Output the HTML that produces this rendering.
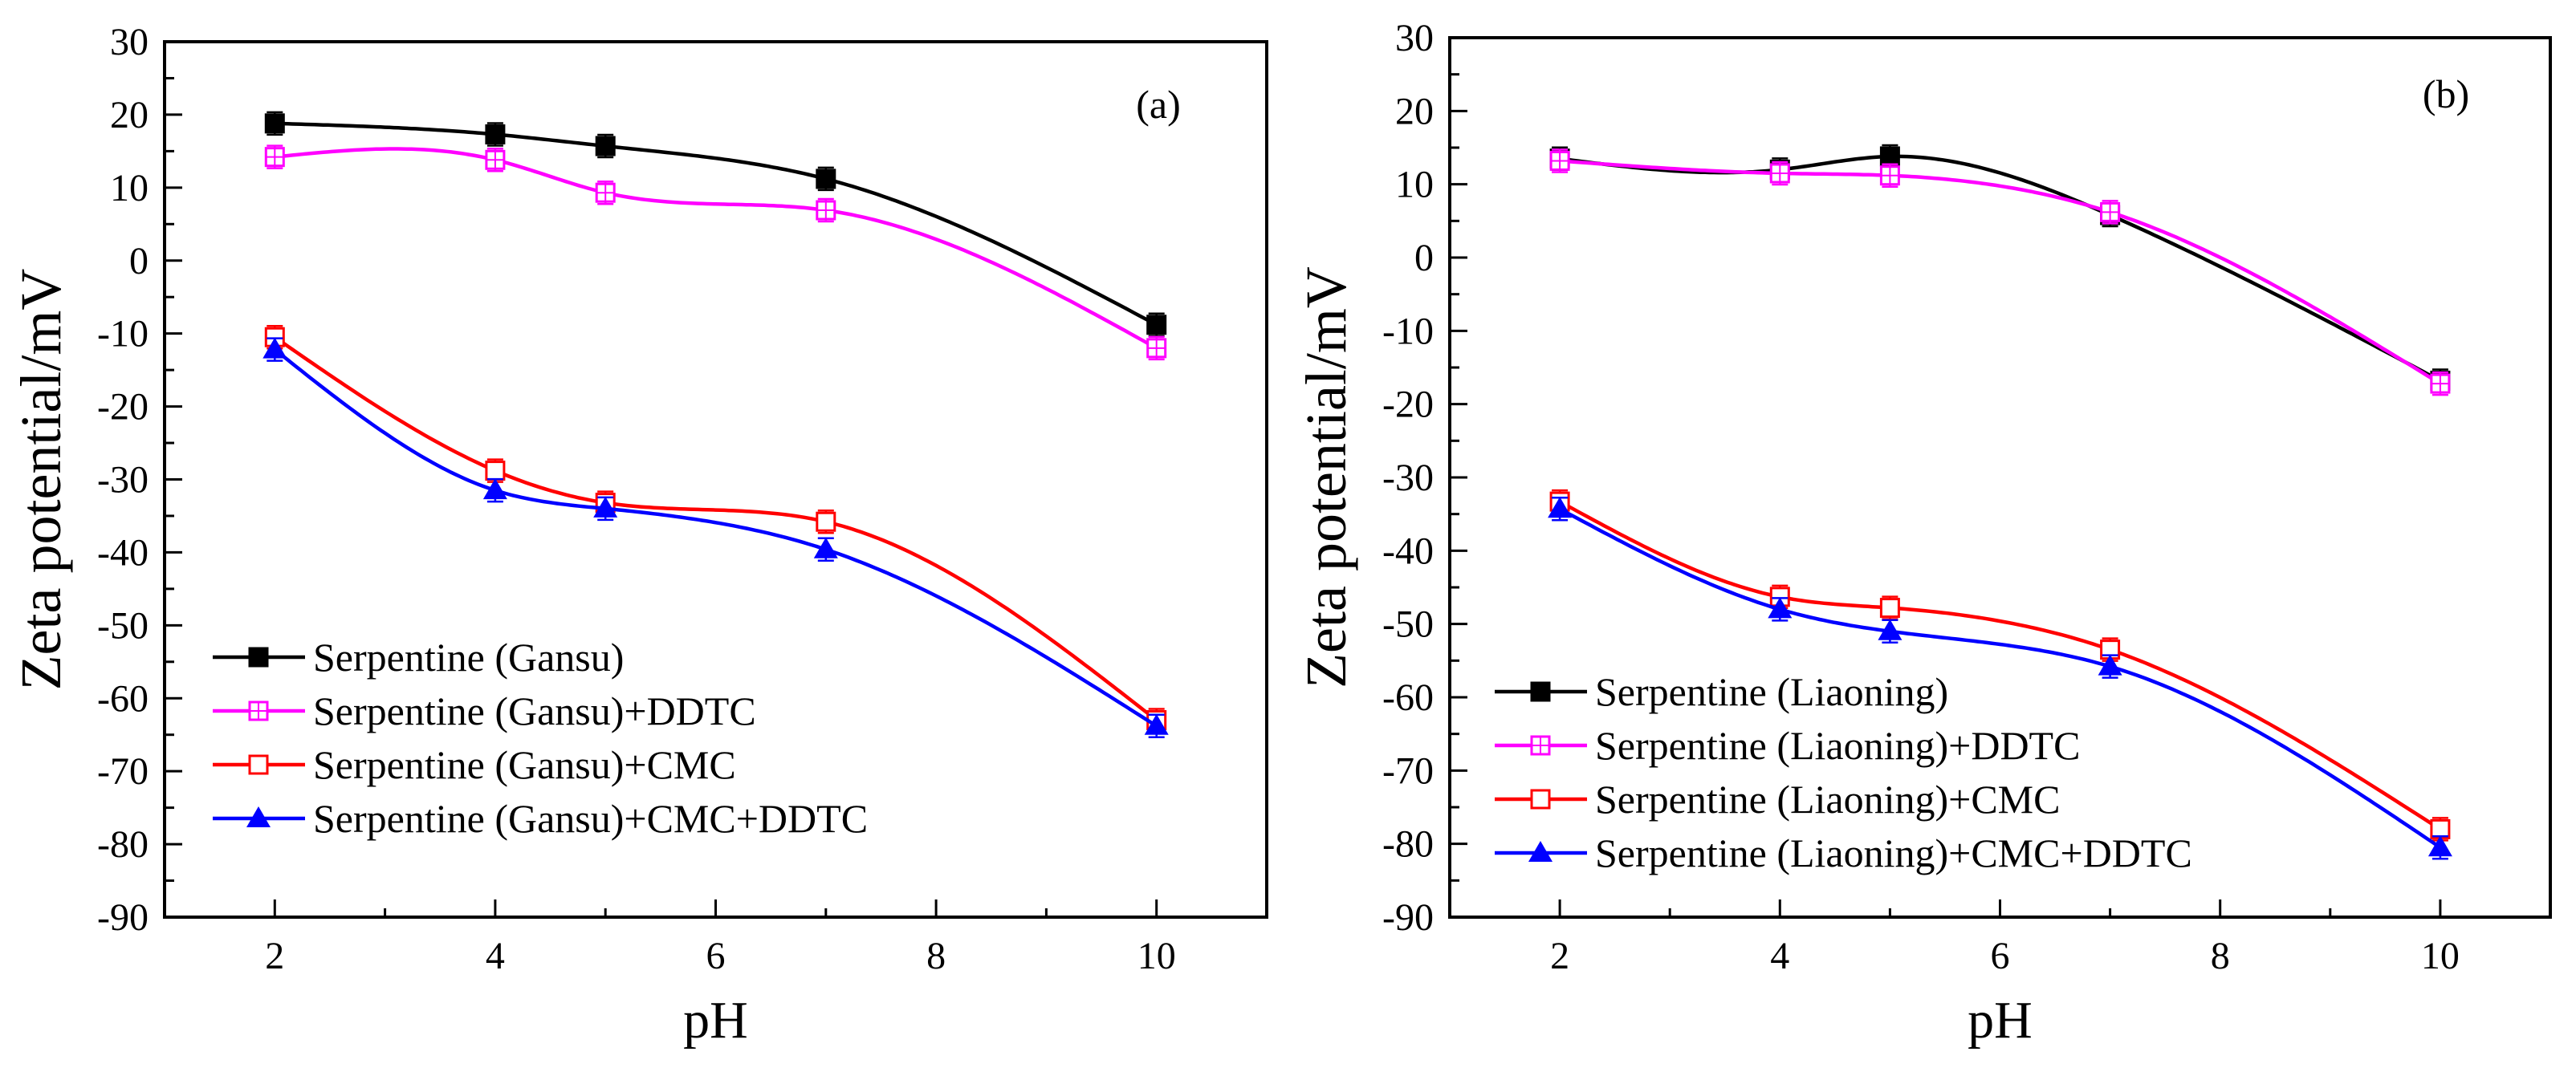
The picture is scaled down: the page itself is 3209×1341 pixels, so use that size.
<!DOCTYPE html>
<html><head><meta charset="utf-8"><style>
html,body{margin:0;padding:0;background:#fff;}
svg, svg text{font-family:"Liberation Serif","Times New Roman",serif;}
</style></head><body>
<svg id="chart" width="3209" height="1336" viewBox="0 0 3209 1336" xmlns="http://www.w3.org/2000/svg" font-family="Liberation Serif, serif"></svg>
<script>
const phValues = [2, 4, 5, 7, 10];
const yTicks = [30, 20, 10, 0, -10, -20, -30, -40, -50, -60, -70, -80, -90];
const xTicks = [2, 4, 6, 8, 10];
const gansuNames = ["Serpentine (Gansu)", "Serpentine (Gansu)+DDTC", "Serpentine (Gansu)+CMC", "Serpentine (Gansu)+CMC+DDTC"];
const liaoningNames = ["Serpentine (Liaoning)", "Serpentine (Liaoning)+DDTC", "Serpentine (Liaoning)+CMC", "Serpentine (Liaoning)+CMC+DDTC"];
const gansuBase = [18.8, 17.3, 15.7, 11.2, -8.8];
const gansuDDTC = [14.2, 13.8, 9.3, 6.9, -12.0];
const gansuCMC = [-10.5, -28.8, -33.2, -35.8, -63.0];
const gansuCMCDDTC = [-12.2, -31.5, -34.0, -39.6, -63.8];
const liaoningBase = [13.5, 12.0, 13.8, 5.8, -16.8];
const liaoningDDTC = [13.2, 11.5, 11.2, 6.2, -17.2];
const liaoningCMC = [-33.3, -46.3, -47.8, -53.5, -78.0];
const liaoningCMCDDTC = [-34.3, -48.0, -51.0, -55.8, -80.5];

const NS = "http://www.w3.org/2000/svg";
const FONT = "'Liberation Serif', 'Times New Roman', serif";
const svg = document.getElementById("chart");
function mk(tag, attrs, parent) {
  const e = document.createElementNS(NS, tag);
  for (const k in attrs) e.setAttribute(k, attrs[k]);
  if (tag === "text") e.setAttribute("style", "font-family:" + FONT);
  (parent || svg).appendChild(e);
  return e;
}
function spline(xs, ys) {
  const n = xs.length, h = [], al = [], l = [1], mu = [0], z = [0], c = new Array(n).fill(0), b = [], d = [];
  for (let i = 0; i < n - 1; i++) h.push(xs[i + 1] - xs[i]);
  for (let i = 1; i < n - 1; i++) al[i] = 3 / h[i] * (ys[i + 1] - ys[i]) - 3 / h[i - 1] * (ys[i] - ys[i - 1]);
  for (let i = 1; i < n - 1; i++) {
    l[i] = 2 * (xs[i + 1] - xs[i - 1]) - h[i - 1] * mu[i - 1];
    mu[i] = h[i] / l[i];
    z[i] = (al[i] - h[i - 1] * z[i - 1]) / l[i];
  }
  for (let j = n - 2; j >= 1; j--) c[j] = z[j] - mu[j] * c[j + 1];
  c[0] = 0;
  for (let j = 0; j < n - 1; j++) {
    b[j] = (ys[j + 1] - ys[j]) / h[j] - h[j] * (c[j + 1] + 2 * c[j]) / 3;
    d[j] = (c[j + 1] - c[j]) / (3 * h[j]);
  }
  return x => {
    let j = 0;
    while (j < n - 2 && x > xs[j + 1]) j++;
    const t = x - xs[j];
    return ys[j] + b[j] * t + c[j] * t * t + d[j] * t * t * t;
  };
}

function panel(cfg) {
  const g = mk("g", {});
  
  
  const X = v => cfg.L + (v - 1) / 10 * (cfg.R - cfg.L);
  const Y = v => cfg.T + (30 - v) / 120 * (cfg.B - cfg.T);
  for (let v = 30; v >= -90; v -= 5) {
    const major = v % 10 === 0;
    const t = mk("line", {x1: cfg.L, x2: cfg.L + (major ? 22 : 12), y1: Y(v), y2: Y(v), stroke: "#000", "stroke-width": 3}, g);
    
    
  }
  yTicks.forEach(v => {
    const t = mk("text", {x: cfg.L - 20, y: Y(v) + 16, "text-anchor": "end", "font-size": 48}, g);
    t.textContent = v;
    
    
  });
  for (let v = 2; v <= 10; v++) {
    const major = v % 2 === 0;
    const t = mk("line", {x1: X(v), x2: X(v), y1: cfg.B, y2: cfg.B - (major ? 22 : 11), stroke: "#000", "stroke-width": 3}, g);
    
    
  }
  xTicks.forEach(v => {
    const t = mk("text", {x: X(v), y: cfg.B + 64, "text-anchor": "middle", "font-size": 48}, g);
    t.textContent = v;
    
    
  });
  const frame = mk("rect", {x: cfg.L, y: cfg.T, width: cfg.R - cfg.L, height: cfg.B - cfg.T, fill: "none", stroke: "#000", "stroke-width": 4}, g);
  
  
  const xt = mk("text", {x: (cfg.L + cfg.R) / 2, y: cfg.B + 150, "text-anchor": "middle", "font-size": 66}, g);
  xt.textContent = "pH";
  
  
  const yt = mk("text", {x: 0, y: 0, "text-anchor": "middle", "font-size": 72, transform: `translate(${cfg.L - 130},${(cfg.T + cfg.B) / 2}) rotate(-90)`}, g);
  yt.textContent = "Zeta potential/mV";
  
  
  const pl = mk("text", {x: cfg.labX, y: cfg.labY, "text-anchor": "middle", "font-size": 50}, g);
  pl.textContent = cfg.label;
  
  

  const colors = ["#000000", "#ff00ff", "#ff0000", "#0000ff"];
  const kinds = ["fill", "cross", "open", "tri"];
  function marker(kind, color, cx, cy, parent, s) {
    s = s || 11;
    if (kind === "tri") return mk("polygon", {points: `${cx},${cy - 15} ${cx - 15},${cy + 11} ${cx + 15},${cy + 11}`, fill: color}, parent);
    const m = mk("g", {}, parent);
    mk("rect", {x: cx - s, y: cy - s, width: 2 * s, height: 2 * s, fill: kind === "fill" ? color : "#fff", stroke: color, "stroke-width": 3}, m);
    if (kind === "cross") {
      mk("line", {x1: cx - s, x2: cx + s, y1: cy, y2: cy, stroke: color, "stroke-width": 2}, m);
      mk("line", {x1: cx, x2: cx, y1: cy - s, y2: cy + s, stroke: color, "stroke-width": 2}, m);
    }
    return m;
  }
  cfg.series.forEach((ys, si) => {
    const sg = mk("g", {}, g);
    
    
    const f = spline(phValues, ys);
    let d = "";
    for (let i = 0; i <= 200; i++) {
      const x = phValues[0] + (phValues[phValues.length - 1] - phValues[0]) * i / 200;
      d += (i ? "L" : "M") + X(x).toFixed(1) + "," + Y(f(x)).toFixed(1);
    }
    const p = mk("path", {d: d, fill: "none", stroke: colors[si], "stroke-width": 4.5}, sg);
    
    
    phValues.forEach((x, i) => {
      const cx = X(x), cy = Y(ys[i]);
      const eb = mk("path", {d: `M${cx},${cy - 14}V${cy + 14}M${cx - 10},${cy - 14}H${cx + 10}M${cx - 10},${cy + 14}H${cx + 10}`, stroke: colors[si], "stroke-width": 2.5, fill: "none"}, sg);
      
      
      const m = marker(kinds[si], colors[si], cx, cy, sg);
      
      
    });
  });
  const lg = mk("g", {}, g);
  
  
  cfg.names.forEach((nm, i) => {
    const y = cfg.legY + i * cfg.legDy;
    const e = mk("g", {}, lg);
    
    
    mk("line", {x1: cfg.legX, x2: cfg.legX + 115, y1: y, y2: y, stroke: colors[i], "stroke-width": 4.5}, e);
    marker(kinds[i], colors[i], cfg.legX + 57, y, e);
    const t = mk("text", {x: cfg.legX + 125, y: y + 17, "font-size": 50}, e);
    t.textContent = nm;
  });
}
panel({name: "panel-a", L: 205, R: 1578, T: 52, B: 1143, label: "(a)", labX: 1443, labY: 147,
  series: [gansuBase, gansuDDTC, gansuCMC, gansuCMCDDTC], names: gansuNames, legX: 265, legY: 819, legDy: 67});
panel({name: "panel-b", L: 1806, R: 3177, T: 47, B: 1143, label: "(b)", labX: 3047, labY: 134,
  series: [liaoningBase, liaoningDDTC, liaoningCMC, liaoningCMCDDTC], names: liaoningNames, legX: 1862, legY: 862, legDy: 67});
</script>
</body></html>
